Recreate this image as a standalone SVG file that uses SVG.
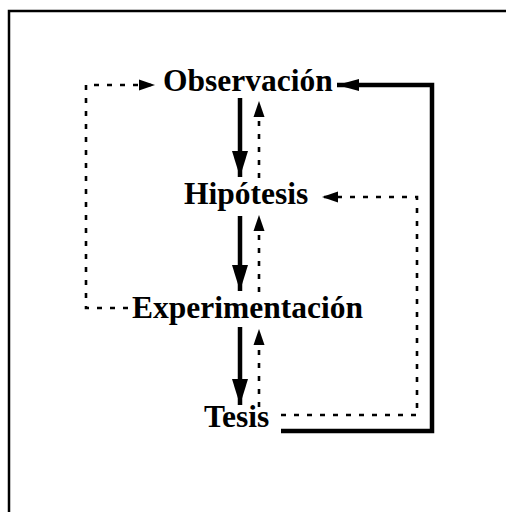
<svg xmlns="http://www.w3.org/2000/svg" width="506" height="512" viewBox="0 0 506 512">
<defs>
<style>
.lbl{font-family:"Liberation Serif","Times New Roman",serif;font-weight:bold;font-size:31.5px;fill:#000}
.solid{fill:none;stroke:#000;stroke-width:4.5}
.dash{fill:none;stroke:#000;stroke-width:2.6;stroke-dasharray:5 8}
.frame{fill:none;stroke:#000;stroke-width:2.5}
</style>
<marker id="bigHead" markerUnits="userSpaceOnUse" markerWidth="30" markerHeight="20" refX="26" refY="0" viewBox="0 -10 30 20" orient="auto"><path d="M0,-8 L26,0 L0,8 z" fill="#000"/></marker>
<marker id="midHead" markerUnits="userSpaceOnUse" markerWidth="26" markerHeight="16" refX="22" refY="0" viewBox="0 -8 26 16" orient="auto"><path d="M0,-6 L22,0 L0,6 z" fill="#000"/></marker>
<marker id="smallHead" markerUnits="userSpaceOnUse" markerWidth="20" markerHeight="14" refX="16" refY="0" viewBox="0 -7 20 14" orient="auto"><path d="M0,-5.5 L16,0 L0,5.5 z" fill="#000"/></marker>
</defs>
<rect width="506" height="512" fill="#fff"/>
<path class="frame" d="M9,512 L9,11 L506,11"/>
<g id="connectors">
<line class="solid" x1="240" y1="98" x2="240" y2="177" marker-end="url(#bigHead)"/>
<line class="solid" x1="240" y1="216" x2="240" y2="291" marker-end="url(#bigHead)"/>
<line class="solid" x1="240" y1="327" x2="240" y2="405" marker-end="url(#bigHead)"/>
<line class="dash" x1="259" y1="178" x2="259" y2="101" marker-end="url(#smallHead)"/>
<line class="dash" x1="259" y1="292" x2="259" y2="215" marker-end="url(#smallHead)"/>
<line class="dash" x1="259" y1="407" x2="259" y2="329" marker-end="url(#smallHead)"/>
<path class="solid" d="M281,431 L432,431 L432,85 L337,85" marker-end="url(#midHead)"/>
<path class="dash" d="M281,415 L417,415 L417,197 L322,197" marker-end="url(#smallHead)"/>
<path class="dash" d="M128,308 L86,308 L86,85 L155,85" marker-end="url(#smallHead)"/>
</g>
<g id="observacion"><text class="lbl" x="163" y="91">Observación</text></g>
<g id="hipotesis"><text class="lbl" x="184" y="204">Hipótesis</text></g>
<g id="experimentacion"><text class="lbl" x="132" y="318">Experimentación</text></g>
<g id="tesis"><text class="lbl" x="204" y="427">Tesis</text></g>
</svg>
